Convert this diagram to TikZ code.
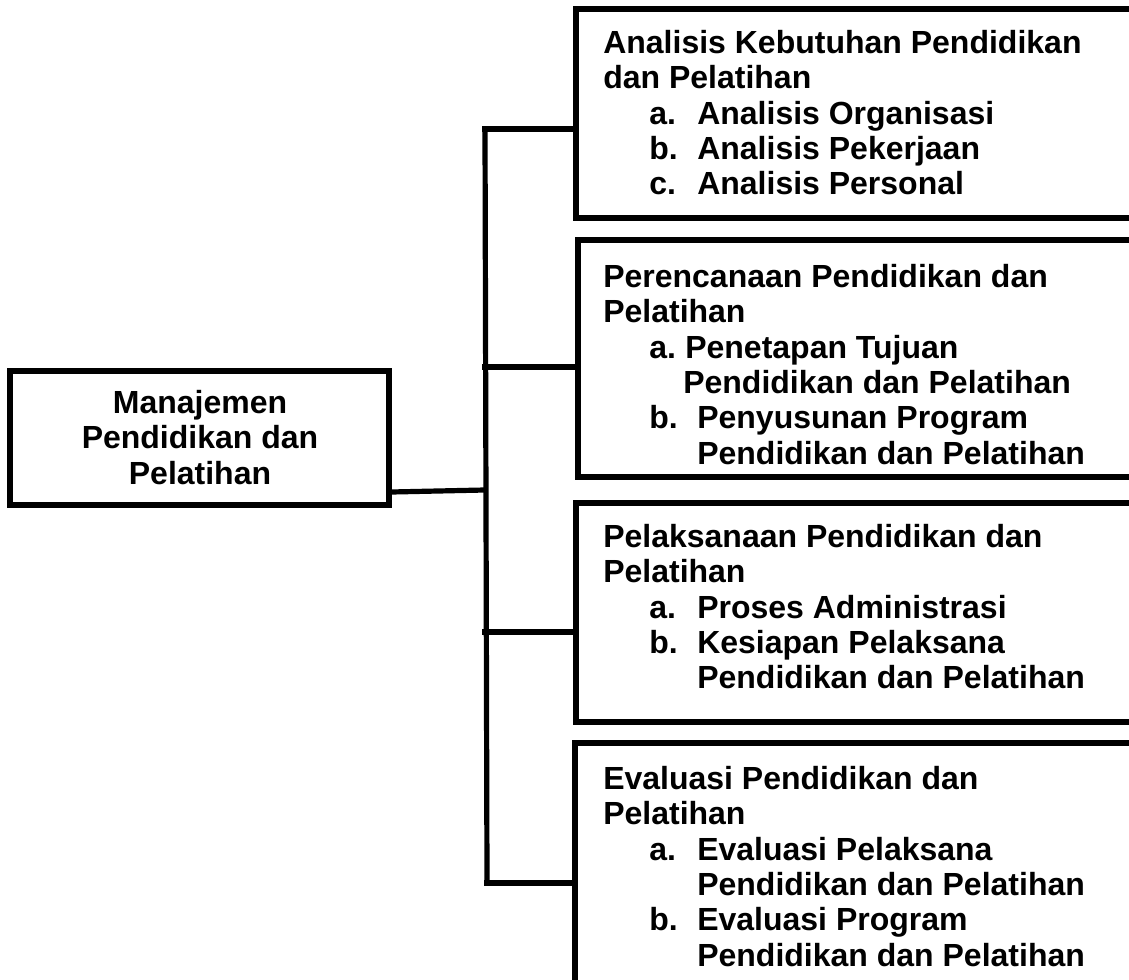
\documentclass[tikz,border=0pt]{standalone}
\usepackage{fontspec}
\setmainfont{Liberation Sans}
\usetikzlibrary{fit}
\newcommand\myitem[2]{\hspace*{34.5pt}\makebox[36pt][l]{#1}#2}
\newcommand\mycont[1]{\hspace*{70.5pt}#1}
\tikzset{
  boxr/.style={draw=black, line width=4.1pt, inner sep=0pt, rectangle},
  txt/.style={inner sep=0pt, align=left, font=\fontsize{24}{26.5}\selectfont\bfseries},
  ctxt/.style={inner sep=0pt, align=center, font=\fontsize{24}{26.5}\selectfont\bfseries},
  conn/.style={line width=3.9pt, line cap=rect}
}
\begin{document}
\begin{tikzpicture}[x=0.75pt,y=-0.75pt]
\useasboundingbox (0,0) rectangle (1129,980);
% left box
\node[boxr, fit={(10,371) (389,505)}] (m) {};
\node[ctxt, anchor=north] (mt) at (200,390) {Manajemen\\Pendidikan dan\\Pelatihan};
% right boxes
\node[boxr, fit={(576,9) (1250,218)}] (b1) {};
\node[boxr, fit={(578,240) (1250,477)}] (b2) {};
\node[boxr, fit={(576,503) (1250,722)}] (b3) {};
\node[boxr, fit={(575,743) (1250,1060)}] (b4) {};
% texts
\node[txt, anchor=north west] (t1) at (603,30) {Analisis Kebutuhan Pendidikan\\dan Pelatihan\\
\myitem{a.}{Analisis Organisasi}\\\myitem{b.}{Analisis Pekerjaan}\\\myitem{c.}{Analisis Personal}};
\node[txt, anchor=north west] (t2) at (603,264) {Perencanaan Pendidikan dan\\Pelatihan\\
\hspace*{34.5pt}\makebox[27pt][l]{a.}Penetapan Tujuan\\\hspace*{60pt}Pendidikan dan Pelatihan\\
\myitem{b.}{Penyusunan Program}\\\mycont{Pendidikan dan Pelatihan}};
\node[txt, anchor=north west] (t3) at (603,524) {Pelaksanaan Pendidikan dan\\Pelatihan\\
\myitem{a.}{Proses Administrasi}\\\myitem{b.}{Kesiapan Pelaksana}\\\mycont{Pendidikan dan Pelatihan}};
\node[txt, anchor=north west] (t4) at (603,766) {Evaluasi Pendidikan dan\\Pelatihan\\
\myitem{a.}{Evaluasi Pelaksana}\\\mycont{Pendidikan dan Pelatihan}\\
\myitem{b.}{Evaluasi Program}\\\mycont{Pendidikan dan Pelatihan}};
% connectors
\coordinate (j1) at (485,129);
\coordinate (j2) at (485,367);
\coordinate (j3) at (485,632);
\coordinate (j4) at (487,883);
\coordinate (jm) at (485,490);
\draw[conn] (m.east |- 0,492) -- (jm);
\draw[conn] (j1) -- (j4);
\draw[conn] (j1) -- (b1.west |- j1);
\draw[conn] (j2) -- (b2.west |- j2);
\draw[conn] (j3) -- (b3.west |- j3);
\draw[conn] (j4) -- (b4.west |- j4);
\end{tikzpicture}
\end{document}
